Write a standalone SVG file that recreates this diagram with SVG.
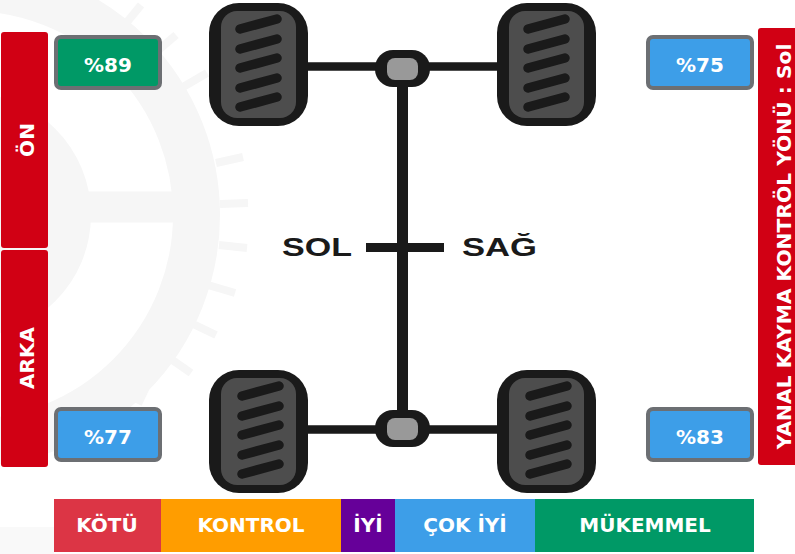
<svg xmlns="http://www.w3.org/2000/svg" width="795" height="554" viewBox="0 0 795 554">
<style>
.t{font-family:"DejaVu Sans",sans-serif;font-weight:700;fill:#fff;text-anchor:middle}
.v{font-size:20px}
.b{font-size:20px}
.side{fill:#d10014}
.val{stroke:#6c6f73;stroke-width:4}
.lab{font-family:"Liberation Sans",sans-serif;font-weight:700;font-size:26px;fill:#1a1a1a}
.tread{stroke:#1a1a1a;stroke-width:9.500;stroke-linecap:round}
.ax{stroke:#1a1a1a;fill:none}
</style>
<defs>
<g id="tyre">
<rect x="209" y="3" width="99" height="123" rx="30" fill="#1a1a1a"/>
<rect x="221" y="11" width="75" height="107" rx="16" fill="#4d4d4d"/>
</g>
<path id="treads" class="tread" d="M240 29L277 19M240 49L277 39M240 68L277 58M240 88L277 78M240 107L277 97"/>
<g id="hub">
<rect x="375" y="50" width="55" height="37" rx="18" fill="#1a1a1a"/>
<rect x="387" y="58" width="31" height="22" rx="8" fill="#999"/>
</g>
</defs>
<rect width="795" height="554" fill="#fff"/>
<g id="watermark" fill="none" stroke="#f6f6f6">
<circle cx="-31" cy="215" r="227.500" stroke-width="47"/>
<circle cx="-31" cy="215" r="122" fill="#f6f6f6" stroke="none"/>
<path d="M60 207H190" stroke-width="31"/>
<path d="M123 27L141 5M155 53L176 35M183 87L207 73M216 163L243 157M220 204L248 203M219 245L247 248M208 285L235 293M191 323L216 335M168 357L191 373M146 387L138 404" stroke-width="8"/>
</g>
<rect x="0" y="527" width="54" height="27" fill="#f9f9f9"/>
<g id="connectors">
<path class="ax" stroke-width="8.500" d="M305 66.500H500M305 429.500H500"/>
<path class="ax" stroke-width="11" d="M402.500 80V420"/>
<path class="ax" stroke-width="9" d="M366 247.500H444"/>
</g>
<g id="wheel-fl"><use href="#tyre"/><use href="#treads"/></g>
<g id="wheel-fr"><use href="#tyre" x="288"/><use href="#treads" x="288"/></g>
<g id="wheel-rl"><use href="#tyre" y="367"/><use href="#treads" x="2" y="367"/></g>
<g id="wheel-rr"><use href="#tyre" x="288" y="367"/><use href="#treads" x="290" y="367"/></g>
<g id="hub-front"><use href="#hub"/></g>
<g id="hub-rear"><use href="#hub" y="360"/></g>
<g id="label-sol"><text class="lab" x="282" y="256" textLength="70" lengthAdjust="spacingAndGlyphs">SOL</text></g>
<g id="label-sag"><text class="lab" x="462" y="256" textLength="75" lengthAdjust="spacingAndGlyphs">SAĞ</text></g>
<g id="side-on"><rect class="side" x="1" y="32" width="47" height="216" rx="3"/><text class="t b" transform="translate(34 140) rotate(-90)">ÖN</text></g>
<g id="side-arka"><rect class="side" x="1" y="250" width="47" height="217" rx="3"/><text class="t b" transform="translate(34 358) rotate(-90)">ARKA</text></g>
<g id="side-yaw"><rect class="side" x="758" y="28" width="47" height="437" rx="3"/><text class="t" font-size="20.250" transform="translate(791 246.500) rotate(-90)">YANAL KAYMA KONTRÖL YÖNÜ : Sol</text></g>
<g id="val-fl"><rect class="val" x="56" y="37" width="104" height="51" rx="5" fill="#009966"/><text class="t v" x="108" y="72">%89</text></g>
<g id="val-fr"><rect class="val" x="648" y="37" width="104" height="51" rx="5" fill="#3d9ee8"/><text class="t v" x="700" y="72">%75</text></g>
<g id="val-rl"><rect class="val" x="56" y="409" width="104" height="51" rx="5" fill="#3d9ee8"/><text class="t v" x="108" y="444">%77</text></g>
<g id="val-rr"><rect class="val" x="648" y="409" width="104" height="51" rx="5" fill="#3d9ee8"/><text class="t v" x="700" y="444">%83</text></g>
<g id="legend-kotu"><rect x="54" y="499" width="107" height="53" fill="#dc3545"/><text class="t b" x="107" y="532">KÖTÜ</text></g>
<g id="legend-kontrol"><rect x="161" y="499" width="180" height="53" fill="#ff9d00"/><text class="t b" x="251" y="532">KONTROL</text></g>
<g id="legend-iyi"><rect x="341" y="499" width="54" height="53" fill="#660099"/><text class="t b" x="368" y="532">İYİ</text></g>
<g id="legend-cokiyi"><rect x="395" y="499" width="140" height="53" fill="#3d9ee8"/><text class="t b" x="465" y="532">ÇOK İYİ</text></g>
<g id="legend-mukemmel"><rect x="535" y="499" width="219" height="53" fill="#009966"/><text class="t b" x="645" y="532">MÜKEMMEL</text></g>
</svg>
